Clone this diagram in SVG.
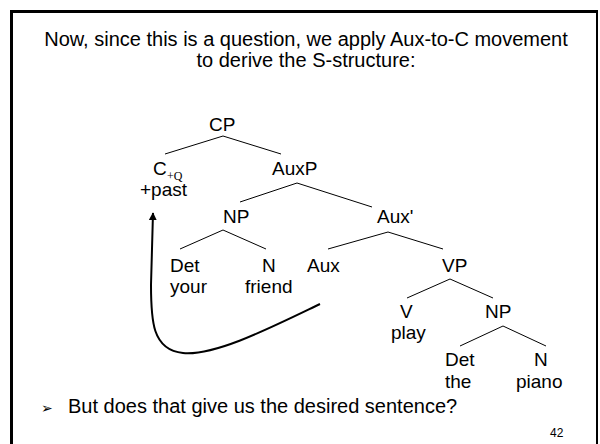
<svg xmlns="http://www.w3.org/2000/svg" width="600" height="444" viewBox="0 0 600 444">
  <style>
    .t { font-family: "Liberation Sans", Arial, sans-serif; font-size: 19px; fill: #000; }
    .h { font-family: "Liberation Sans", Arial, sans-serif; font-size: 20px; fill: #000; }
    .sub { font-family: "Liberation Serif", "Times New Roman", serif; font-size: 12px; fill: #000; }
    .branch { stroke: #000; stroke-width: 1; fill: none; }
    .move { stroke: #000; stroke-width: 2; fill: none; }
    .frame { fill: #000; }
  </style>
  <defs>
    <marker id="tip" viewBox="0 0 10 10" refX="9" refY="5" markerWidth="4" markerHeight="5" orient="auto" markerUnits="strokeWidth">
      <path d="M0,0 L10,5 L0,10 z" fill="#000"/>
    </marker>
  </defs>

  <rect x="0" y="0" width="600" height="444" fill="#fff"/>
  <!-- slide frame: top, left and right edges; the bottom edge runs off the page -->
  <g id="frame">
    <rect class="frame" x="10" y="10" width="588" height="3"/>
    <rect class="frame" x="10" y="10" width="3" height="434"/>
    <rect class="frame" x="596" y="10" width="2" height="434"/>
  </g>

  <g id="heading">
    <text class="h" x="306" y="46" text-anchor="middle">Now, since this is a question, we apply Aux-to-C movement</text>
    <text class="h" x="306" y="67" text-anchor="middle">to derive the S-structure:</text>
  </g>

  <!-- tree branches -->
  <g id="connectors">
    <path class="branch" d="M223,136 L165,154 M223,136 L281,154"/>
    <path class="branch" d="M297,183 L240,202 M297,183 L372,207"/>
    <path class="branch" d="M223,230 L180,249 M223,230 L266,249"/>
    <path class="branch" d="M388,232 L328,249 M388,232 L443,249"/>
    <path class="branch" d="M450,279 L407,298 M450,279 L493,298"/>
    <path class="branch" d="M503,326 L460,346 M503,326 L546,346"/>
    <!-- Aux-to-C movement -->
    <path class="move" d="M320,304 C270,328 215,356 183,353 C152,350 151,320 151,285 L153,213" marker-end="url(#tip)"/>
  </g>

  <g id="cp"><text class="t" x="209" y="131">CP</text></g>
  <g id="c">
    <text class="t" x="153" y="175">C</text>
    <text class="sub" x="167" y="180">+Q</text>
    <text class="t" x="140" y="196">+past</text>
  </g>
  <g id="auxp"><text class="t" x="272" y="175">AuxP</text></g>
  <g id="np-subject"><text class="t" x="223" y="223">NP</text></g>
  <g id="aux-bar"><text class="t" x="377" y="223">Aux'</text></g>
  <g id="det-your">
    <text class="t" x="170" y="272">Det</text>
    <text class="t" x="170" y="293">your</text>
  </g>
  <g id="n-friend">
    <text class="t" x="262" y="272">N</text>
    <text class="t" x="245" y="293">friend</text>
  </g>
  <g id="aux"><text class="t" x="307" y="272">Aux</text></g>
  <g id="vp"><text class="t" x="442" y="272">VP</text></g>
  <g id="v-play">
    <text class="t" x="400" y="318">V</text>
    <text class="t" x="391" y="339">play</text>
  </g>
  <g id="np-object"><text class="t" x="485" y="318">NP</text></g>
  <g id="det-the">
    <text class="t" x="445" y="366">Det</text>
    <text class="t" x="445" y="388">the</text>
  </g>
  <g id="n-piano">
    <text class="t" x="534" y="366">N</text>
    <text class="t" x="516" y="388">piano</text>
  </g>

  <g id="bullet">
    <text x="41" y="413" font-family="DejaVu Sans, sans-serif" font-size="14">➢</text>
    <text class="h" x="68" y="413">But does that give us the desired sentence?</text>
  </g>
  <text x="550" y="437" font-family="Liberation Sans, Arial, sans-serif" font-size="12">42</text>
</svg>
